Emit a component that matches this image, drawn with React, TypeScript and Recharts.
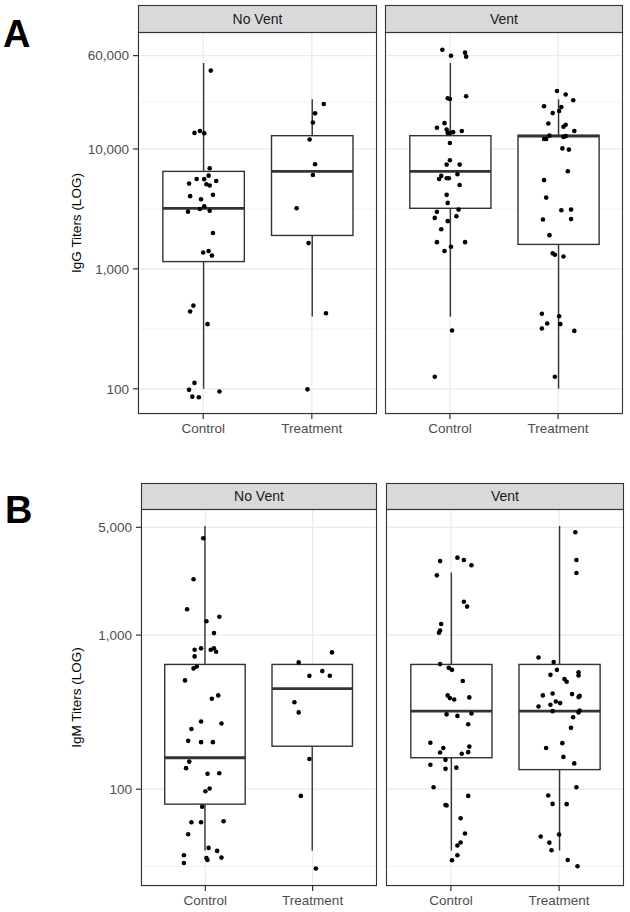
import React from 'react';
import { ComposedChart, XAxis, YAxis, Bar, Scatter, CartesianGrid } from 'recharts';

// ---------- DATA ----------
const categories = ['Control', 'Treatment'];
const facetNames = ['No Vent', 'Vent'];
const iggTicks = [100, 1000, 10000, 60000];
const igmTicks = [100, 1000, 5000];

// box stats per category: [lower whisker, Q1, median, Q3, upper whisker]
const iggNoVentBox = [[100, 1150, 3200, 6500, 52000], [400, 1900, 6500, 12900, 26000]];
const iggVentBox = [[400, 3200, 6500, 12900, 52000], [100, 1600, 12800, 13000, 26000]];
const igmNoVentBox = [[40, 80, 160, 645, 5100], [40, 190, 450, 645, 645]];
const igmVentBox = [[40, 160, 321, 645, 2550], [40, 134, 321, 645, 5100]];

// jittered points: [horizontal jitter (category units), titer]
const iggNoVentControl = [[0.07, 45000], [-0.08, 13600], [-0.03, 14100], [0.01, 13500], [0.06, 6900], [-0.13, 5140], [-0.06, 5620], [0.01, 5600], [0.05, 5990], [0.12, 5410], [0.03, 5080], [0.06, 4950], [-0.12, 4040], [0.09, 4140], [-0.02, 3810], [0.01, 3330], [-0.03, 3160], [-0.14, 3000], [0.06, 3050], [0.09, 1990], [0.0, 1370], [0.05, 1410], [0.08, 1290], [-0.09, 494], [-0.12, 441], [0.04, 346], [-0.08, 112], [-0.13, 98], [-0.1, 86], [-0.04, 85], [0.15, 95]];
const iggNoVentTreatment = [[0.11, 23700], [0.03, 19800], [0.01, 16600], [-0.02, 12000], [0.03, 7460], [0.01, 6070], [-0.14, 3200], [-0.03, 1640], [0.13, 427], [-0.04, 99]];
const iggVentControl = [[-0.07, 67200], [0.01, 59900], [0.14, 63500], [0.15, 58800], [-0.02, 26500], [0.0, 26100], [0.15, 27500], [-0.12, 15000], [-0.05, 16400], [-0.03, 14500], [-0.02, 13600], [0.0, 13600], [0.03, 13800], [0.11, 14100], [0.0, 11200], [0.0, 8050], [-0.03, 7400], [0.09, 7400], [-0.08, 5960], [-0.1, 5620], [-0.03, 5700], [-0.01, 5700], [0.07, 6160], [0.09, 5010], [-0.03, 4140], [-0.02, 3550], [0.08, 3120], [-0.12, 2990], [-0.14, 2660], [0.06, 2750], [-0.02, 2500], [-0.08, 2140], [-0.12, 1670], [0.14, 1670], [-0.05, 1410], [0.01, 1530], [0.02, 306], [-0.14, 126]];
const iggVentTreatment = [[-0.01, 30400], [0.07, 28400], [0.14, 25500], [-0.13, 22700], [0.03, 22400], [0.01, 20700], [-0.05, 19900], [-0.09, 16300], [0.07, 15900], [0.05, 15300], [0.15, 14100], [-0.08, 12900], [-0.13, 12100], [-0.11, 12100], [0.05, 12600], [0.07, 12800], [0.04, 10100], [0.1, 9870], [0.09, 6520], [-0.13, 5490], [-0.11, 3930], [0.03, 3080], [0.12, 3120], [-0.14, 2580], [0.12, 2600], [-0.08, 1910], [-0.05, 1350], [-0.03, 1310], [0.05, 1270], [-0.15, 422], [0.01, 403], [-0.1, 350], [0.02, 346], [-0.15, 318], [0.15, 304], [-0.03, 126]];

const igmNoVentControl = [[-0.02, 4245], [-0.11, 2300], [-0.17, 1470], [0.01, 1230], [0.13, 1315], [0.08, 1030], [-0.1, 803], [-0.1, 727], [-0.04, 820], [0.05, 803], [0.08, 820], [0.1, 779], [-0.08, 626], [-0.11, 608], [-0.19, 508], [0.06, 386], [0.12, 406], [-0.04, 275], [-0.13, 246], [0.15, 267], [-0.16, 206], [-0.04, 202], [0.07, 202], [-0.15, 151], [-0.18, 137], [0.02, 126], [0.13, 127], [0.04, 101], [0.0, 97], [-0.03, 77], [-0.13, 61], [-0.04, 61], [0.17, 62], [-0.16, 51], [0.03, 41.6], [0.11, 39.8], [-0.2, 37.3], [0.01, 35.8], [0.02, 34.7], [0.15, 36], [-0.2, 33.2]];
const igmNoVentTreatment = [[-0.13, 665], [0.18, 772], [-0.03, 544], [0.09, 584], [0.16, 545], [-0.17, 367], [-0.13, 315], [-0.03, 157], [-0.11, 90.5], [0.03, 30.6]];
const igmVentControl = [[-0.1, 3020], [0.06, 3180], [0.12, 3070], [0.19, 2840], [-0.13, 2440], [0.12, 1645], [0.15, 1530], [-0.09, 1180], [-0.1, 1070], [-0.11, 1035], [-0.1, 648], [-0.02, 613], [0.01, 595], [0.11, 503], [-0.03, 406], [-0.01, 390], [0.03, 382], [0.17, 394], [-0.04, 306], [0.06, 299], [0.19, 310], [0.16, 264], [-0.19, 200], [-0.07, 185], [-0.1, 173], [0.1, 170], [0.16, 174], [0.17, 189], [-0.05, 155], [-0.19, 144], [-0.05, 135.5], [0.05, 138], [-0.16, 103], [0.16, 90.5], [-0.05, 79], [-0.04, 78.4], [0.09, 64.8], [0.13, 51.6], [0.09, 45.1], [0.06, 43.1], [0.06, 37.3], [0.01, 34.6]];
const igmVentTreatment = [[0.15, 4645], [0.16, 3070], [0.16, 2530], [-0.19, 716], [-0.05, 668], [-0.02, 595], [-0.08, 552], [0.05, 518], [0.07, 498], [0.18, 573], [0.18, 547], [-0.15, 406], [-0.06, 418], [0.12, 414], [0.18, 396], [0.19, 403], [-0.19, 344], [-0.08, 353], [-0.03, 371], [0.01, 362], [-0.06, 321], [0.19, 324], [0.18, 315], [0.13, 293], [0.11, 250], [0.03, 199], [-0.12, 185], [0.04, 162], [0.14, 147], [0.16, 103], [-0.1, 91], [-0.06, 80.3], [0.07, 80], [0.0, 50.8], [-0.17, 49.3], [-0.09, 45], [-0.07, 40.2], [0.08, 34.7], [0.17, 31.6]];

// ---------- STYLE / LAYOUT ----------
const FONT = '"Liberation Sans", Arial, Helvetica, sans-serif';
const DARK = '#333333';
const AXIS_H = 30;

type FacetCfg = { left: number; right: number; boxes: number[][]; points: number[][][] };
type PanelCfg = {
  letter: string; letterX: number; letterY: number; yLabel: string; ticks: number[]; domain: [number, number];
  stripTop: number; plotTop: number; plotBottom: number; facets: FacetCfg[];
};

const panels: PanelCfg[] = [
  {
    letter: 'A', letterX: 3, letterY: 47, yLabel: 'IgG Titers (LOG)', ticks: iggTicks, domain: [1.79, 4.975],
    stripTop: 5, plotTop: 32, plotBottom: 414,
    facets: [
      { left: 138, right: 377, boxes: iggNoVentBox, points: [iggNoVentControl, iggNoVentTreatment] },
      { left: 385, right: 623, boxes: iggVentBox, points: [iggVentControl, iggVentTreatment] },
    ],
  },
  {
    letter: 'B', letterX: 5, letterY: 523, yLabel: 'IgM Titers (LOG)', ticks: igmTicks, domain: [1.372, 3.818],
    stripTop: 483, plotTop: 509, plotBottom: 886,
    facets: [
      { left: 141, right: 377, boxes: igmNoVentBox, points: [igmNoVentControl, igmNoVentTreatment] },
      { left: 386, right: 624, boxes: igmVentBox, points: [igmVentControl, igmVentTreatment] },
    ],
  },
];

const fmt = (v: number) => Math.round(Math.pow(10, v)).toLocaleString('en-US');

const BoxShape = (props: any) => {
  const { x, y, width, height, payload } = props;
  if (!payload || !payload.stats) return null;
  const top = Math.min(y, y + height);
  const bottom = Math.max(y, y + height);
  const [lo, q1, med, q3, hi] = payload.stats as number[];
  const ppu = (bottom - top) / (q3 - q1);
  const yOf = (v: number) => bottom - (v - q1) * ppu;
  const cx = x + width / 2;
  return (
    <g>
      <line x1={cx} x2={cx} y1={yOf(hi)} y2={yOf(lo)} stroke={DARK} strokeWidth={1.4} />
      <rect x={x} y={top} width={width} height={bottom - top} fill="#ffffff" stroke={DARK} strokeWidth={1.4} />
      <line x1={x} x2={x + width} y1={yOf(med)} y2={yOf(med)} stroke={DARK} strokeWidth={2.8} />
    </g>
  );
};

const Dot = (props: any) => {
  const { cx, cy } = props;
  if (cx == null || cy == null) return null;
  return <circle cx={cx} cy={cy} r={2.3} fill="#000000" />;
};

function Facet({ panel, facet, idx }: { panel: PanelCfg; facet: FacetCfg; idx: number }) {
  const logTicks = panel.ticks.map((t) => Math.log10(t));
  const [lo, hi] = panel.domain;
  const minorAll: number[] = [];
  for (let i = 0; i < logTicks.length - 1; i++) minorAll.push((logTicks[i] + logTicks[i + 1]) / 2);
  minorAll.push(logTicks[0] - (logTicks[1] - logTicks[0]) / 2);
  const minor = minorAll.filter((v) => v > lo && v < hi);

  const data = categories.map((c, i) => {
    const s = facet.boxes[i].map((v) => Math.log10(v));
    return { cat: c, box: [s[1], s[3]], stats: s };
  });
  const pts = facet.points.flatMap((arr, i) => arr.map(([o, v]) => ({ x: i + 1 + o, y: Math.log10(v) })));

  const yAxisW = idx === 0 ? facet.left : 0;
  const chartLeft = idx === 0 ? 0 : facet.left;
  const width = facet.right - chartLeft;
  const plotW = facet.right - facet.left;
  const unit = plotW / 2.2;
  const pad = plotW * (1.2 / 2.2 - 0.5);
  const plotH = panel.plotBottom - panel.plotTop;

  return (
    <div style={{ position: 'absolute', left: chartLeft, top: panel.plotTop }}>
      <ComposedChart width={width} height={plotH + AXIS_H} data={data} margin={{ top: 0, right: 0, bottom: 0, left: 0 }}>
        <XAxis xAxisId="num" dataKey="x" type="number" domain={[0.4, 2.6]} ticks={[1, 2]} hide allowDataOverflow />
        <XAxis
          xAxisId="cat" dataKey="cat" type="category" padding={{ left: pad, right: pad }} height={AXIS_H}
          interval={0} axisLine={false} tickLine={{ stroke: DARK, strokeWidth: 1.2 }} tickSize={5} tickMargin={4}
          tick={{ fill: '#4D4D4D', fontSize: 13.5, fontFamily: FONT }}
        />
        <YAxis
          yAxisId="maj" dataKey="y" type="number" domain={panel.domain} ticks={logTicks} allowDataOverflow
          width={yAxisW} hide={idx !== 0} axisLine={false} tickLine={{ stroke: DARK, strokeWidth: 1.2 }}
          tickSize={5} tickMargin={4} tickFormatter={fmt} tick={{ fill: '#4D4D4D', fontSize: 13.5, fontFamily: FONT }}
        />
        <YAxis yAxisId="min" type="number" domain={panel.domain} ticks={minor} allowDataOverflow hide />
        <CartesianGrid xAxisId="num" yAxisId="min" vertical={false} stroke="#F0F0F0" strokeWidth={0.8} />
        <CartesianGrid xAxisId="num" yAxisId="maj" stroke="#EBEBEB" strokeWidth={1.3} />
        <Bar xAxisId="cat" yAxisId="maj" dataKey="box" barSize={unit * 0.75} shape={BoxShape} isAnimationActive={false} />
        <Scatter xAxisId="num" yAxisId="maj" data={pts} shape={Dot} isAnimationActive={false} />
      </ComposedChart>
    </div>
  );
}

export default function App() {
  return (
    <div style={{ position: 'absolute', left: 0, top: 0, width: 630, height: 912, background: '#ffffff', fontFamily: FONT }}>
      {panels.map((p) => p.facets.map((f, i) => <Facet key={p.letter + i} panel={p} facet={f} idx={i} />))}
      <svg width={630} height={912} style={{ position: 'absolute', left: 0, top: 0, pointerEvents: 'none' }}>
        {panels.map((p) => (
          <g key={p.letter}>
            <text x={p.letterX} y={p.letterY} fontSize={38} fontWeight="bold" fontFamily={FONT} fill="#000">{p.letter}</text>
            <text
              transform={`translate(76, ${(p.plotTop + p.plotBottom) / 2}) rotate(-90)`}
              textAnchor="middle" dy="0.35em" fontSize={13.5} fontFamily={FONT} fill="#000"
            >{p.yLabel}</text>
            {p.facets.map((f, i) => (
              <g key={i}>
                <rect x={f.left + 0.5} y={p.stripTop + 0.5} width={f.right - f.left - 1} height={p.plotTop - p.stripTop}
                  fill="#D9D9D9" stroke={DARK} strokeWidth={1.1} />
                <text x={(f.left + f.right) / 2} y={(p.stripTop + p.plotTop) / 2 + 5} textAnchor="middle"
                  fontSize={14} fontFamily={FONT} fill="#1A1A1A">{facetNames[i]}</text>
                <rect x={f.left + 0.5} y={p.plotTop + 0.5} width={f.right - f.left - 1} height={p.plotBottom - p.plotTop - 1}
                  fill="none" stroke={DARK} strokeWidth={1.1} />
              </g>
            ))}
          </g>
        ))}
      </svg>
    </div>
  );
}
